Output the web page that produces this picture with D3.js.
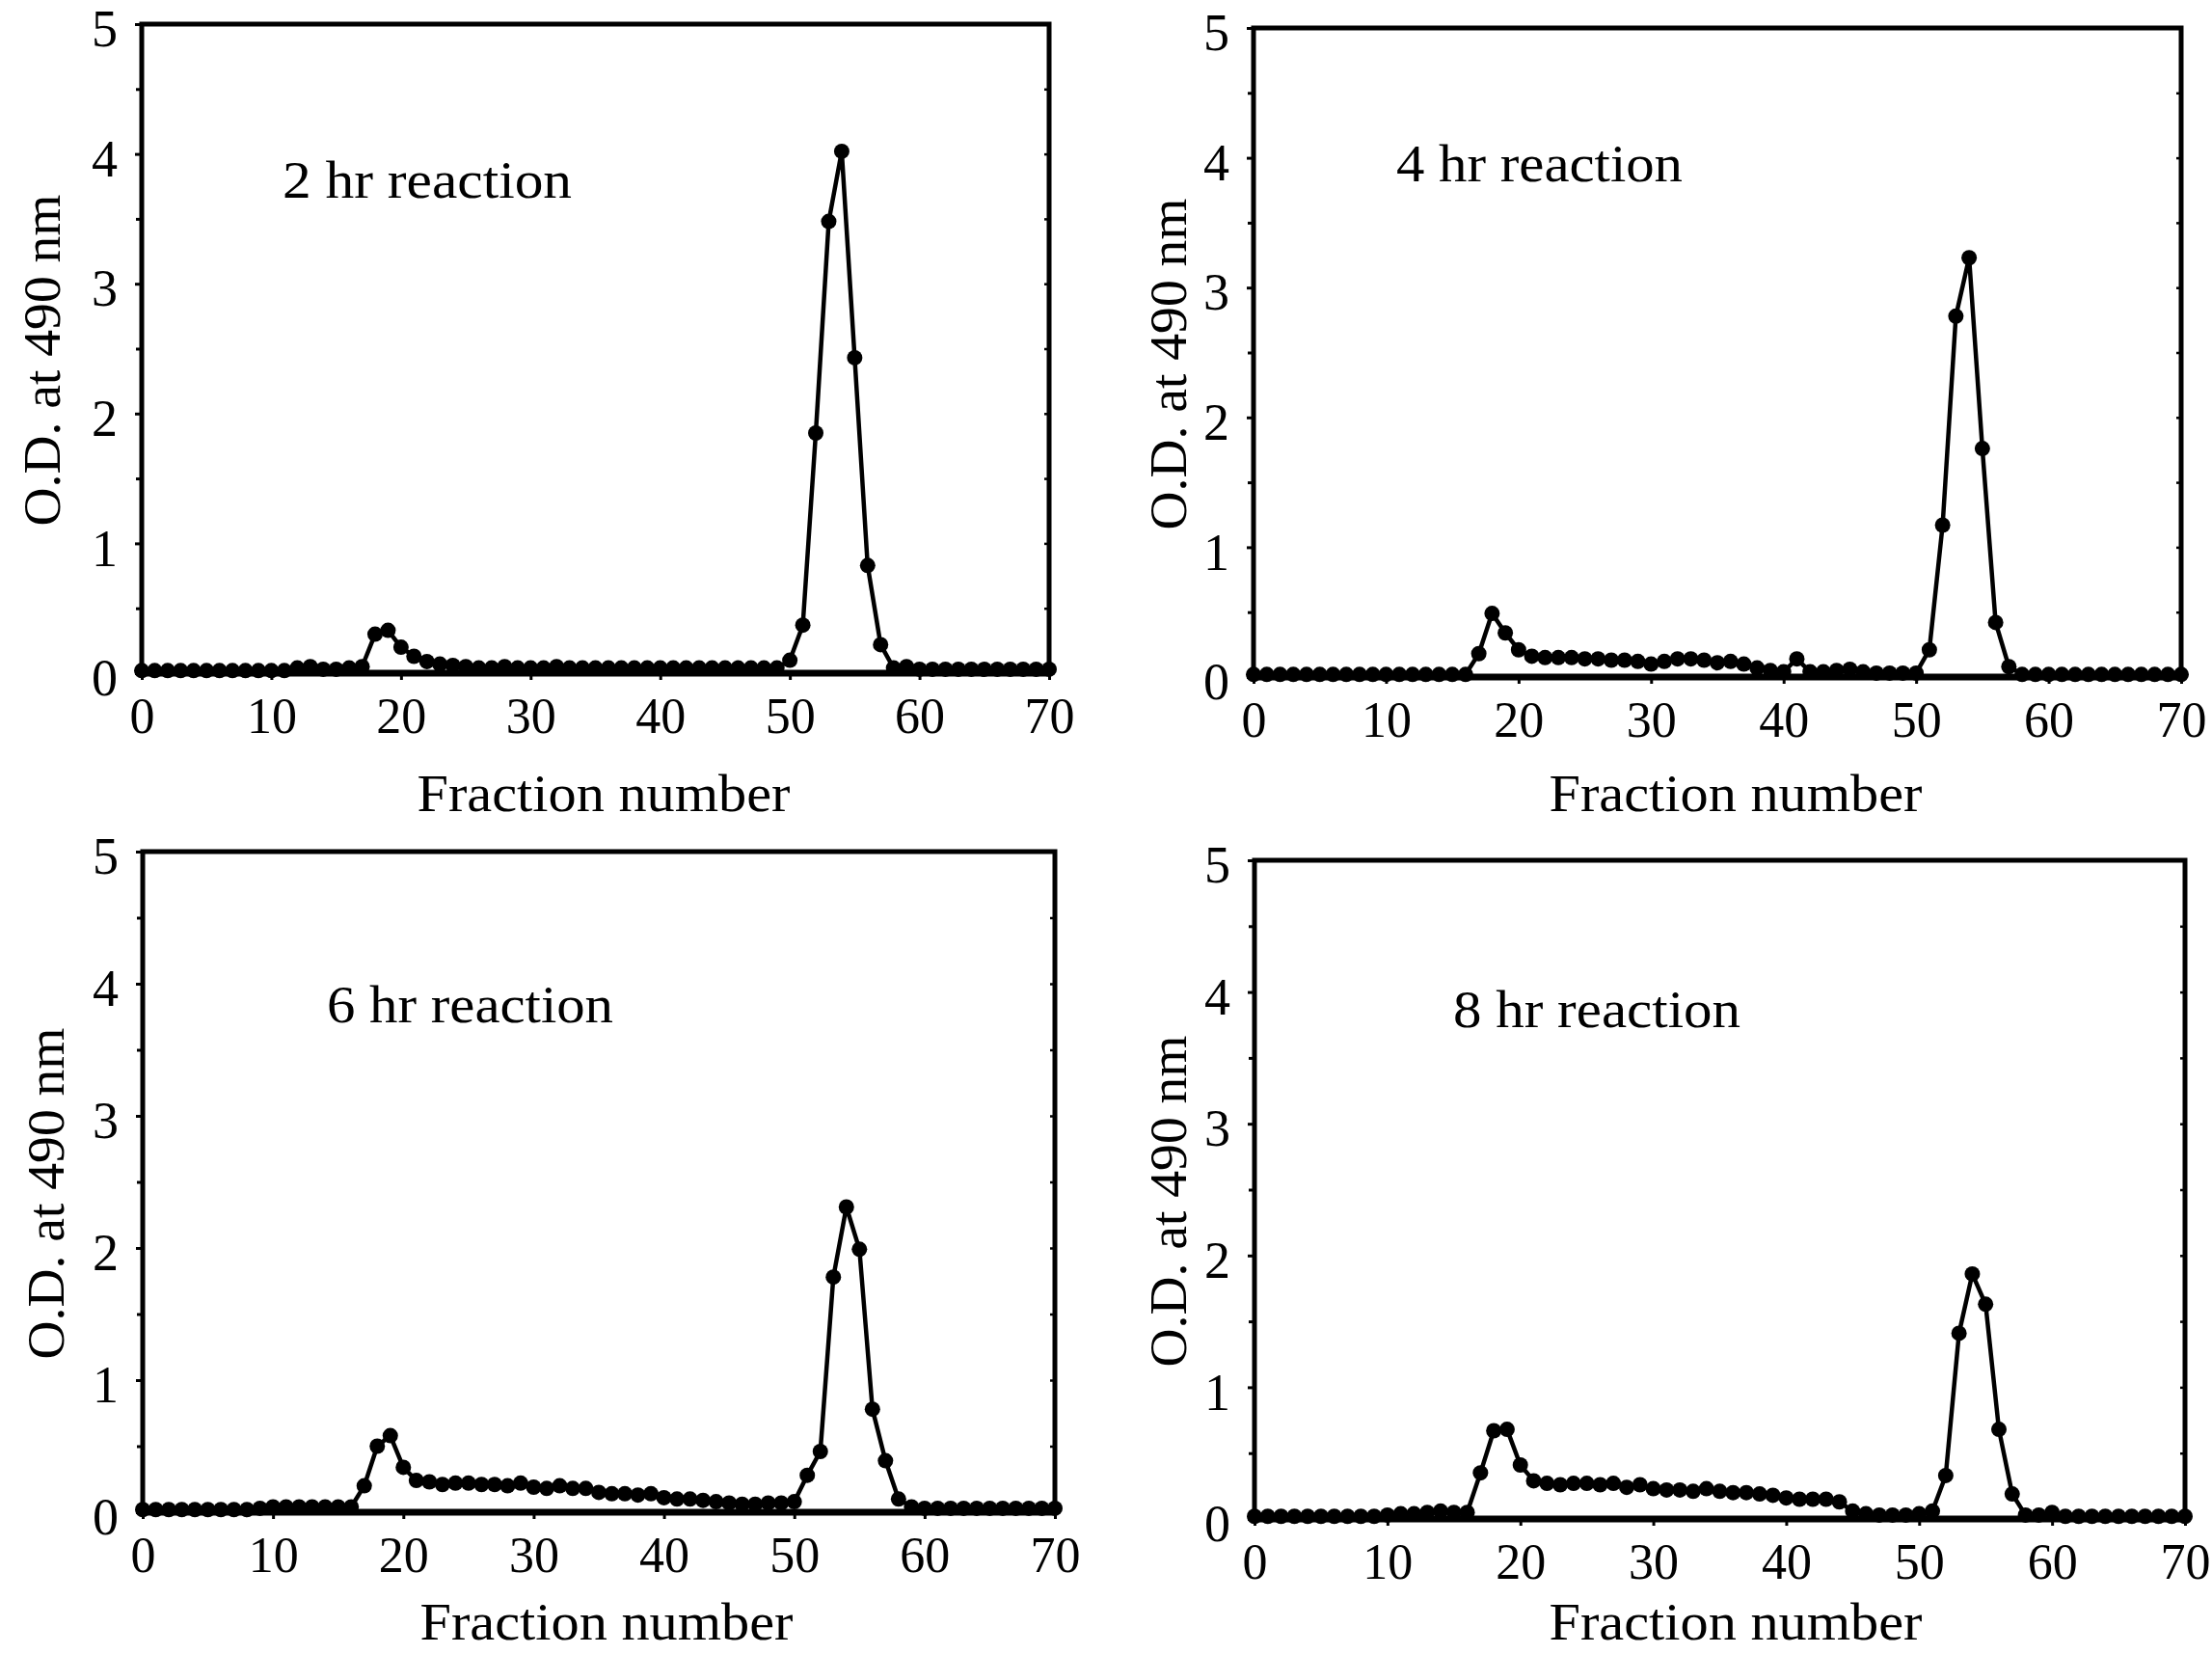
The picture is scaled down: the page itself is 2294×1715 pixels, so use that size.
<!DOCTYPE html>
<html>
<head>
<meta charset="utf-8">
<script src="https://cdn.jsdelivr.net/npm/d3@7"></script>
<style>
  html, body { margin: 0; padding: 0; background: #fff; }
  svg { display: block; }
  svg text { font-family: "Liberation Serif", "Times New Roman", Times, serif !important; fill: #000; }
</style>
</head>
<body>
<svg id="chart" width="2294" height="1715"></svg>
<script>
// ---------- DATA ----------
const fractions = d3.range(0, 71); // fraction numbers 0..70
const xTicks = [0, 10, 20, 30, 40, 50, 60, 70];
const yTicks = [0, 1, 2, 3, 4, 5];
const yMinorTicks = [0.5, 1.5, 2.5, 3.5, 4.5];
const panelTitles = ["2 hr  reaction", "4 hr  reaction", "6 hr  reaction", "8 hr  reaction"];
const xLabel = "Fraction  number";
const yLabel = "O.D.  at  490 nm";

// O.D. at 490 nm for fractions 0..70
const od2hr = [
  0.02,0.02,0.02,0.02,0.02,0.02,0.02,0.02,0.02,0.02,
  0.02,0.02,0.04,0.05,0.03,0.03,0.04,0.05,0.30,0.33,
  0.20,0.13,0.09,0.07,0.06,0.05,0.04,0.04,0.05,0.04,
  0.04,0.04,0.05,0.04,0.04,0.04,0.04,0.04,0.04,0.04,
  0.04,0.04,0.04,0.04,0.04,0.04,0.04,0.04,0.04,0.04,
  0.10,0.37,1.85,3.48,4.02,2.43,0.83,0.22,0.04,0.05,
  0.03,0.03,0.03,0.03,0.03,0.03,0.03,0.03,0.03,0.03,
  0.03
];
const od4hr = [
  0.02,0.02,0.02,0.02,0.02,0.02,0.02,0.02,0.02,0.02,
  0.02,0.02,0.02,0.02,0.02,0.02,0.02,0.18,0.49,0.34,
  0.21,0.16,0.15,0.15,0.15,0.14,0.14,0.13,0.13,0.12,
  0.10,0.12,0.14,0.14,0.13,0.11,0.12,0.10,0.07,0.05,
  0.04,0.14,0.04,0.04,0.05,0.06,0.04,0.03,0.03,0.03,
  0.03,0.21,1.17,2.78,3.23,1.76,0.42,0.08,0.02,0.02,
  0.02,0.02,0.02,0.02,0.02,0.02,0.02,0.02,0.02,0.02,
  0.02
];
const od6hr = [
  0.02,0.02,0.02,0.02,0.02,0.02,0.02,0.02,0.02,0.03,
  0.04,0.04,0.04,0.04,0.04,0.04,0.04,0.20,0.50,0.58,
  0.34,0.24,0.23,0.21,0.22,0.22,0.21,0.21,0.20,0.22,
  0.19,0.18,0.20,0.18,0.18,0.15,0.14,0.14,0.13,0.14,
  0.11,0.10,0.10,0.09,0.08,0.07,0.06,0.06,0.07,0.07,
  0.08,0.28,0.46,1.78,2.31,1.99,0.78,0.39,0.10,0.04,
  0.03,0.03,0.03,0.03,0.03,0.03,0.03,0.03,0.03,0.03,
  0.03
];
const od8hr = [
  0.02,0.02,0.02,0.02,0.02,0.02,0.02,0.02,0.02,0.02,
  0.03,0.04,0.04,0.05,0.06,0.05,0.05,0.35,0.67,0.68,
  0.41,0.29,0.27,0.26,0.27,0.27,0.26,0.27,0.24,0.26,
  0.23,0.22,0.22,0.21,0.23,0.21,0.20,0.20,0.19,0.18,
  0.16,0.15,0.15,0.15,0.13,0.06,0.04,0.03,0.03,0.03,
  0.04,0.06,0.33,1.41,1.86,1.63,0.68,0.19,0.03,0.03,
  0.05,0.02,0.02,0.02,0.02,0.02,0.02,0.02,0.02,0.02,
  0.02
];
const seriesList = [od2hr, od4hr, od6hr, od8hr];

// ---------- LAYOUT ----------
const panels = [
  { l: 147,  r: 1088, t: 25,  b: 698,  title: [293, 205],   titleW: 300, xl: [626, 841],   ylx: 40 },
  { l: 1300, r: 2262, t: 29,  b: 702,  title: [1448, 188],  titleW: 297, xl: [1800, 841],  ylx: 1208 },
  { l: 148,  r: 1094, t: 883, b: 1568, title: [339, 1060],  titleW: 297, xl: [629, 1700],  ylx: 44 },
  { l: 1301, r: 2266, t: 892, b: 1575, title: [1507, 1065], titleW: 298, xl: [1800, 1700], ylx: 1208 }
];

const FONT = '"Liberation Serif", "Times New Roman", Times, serif';
const svg = d3.select("#chart");

panels.forEach((p, i) => {
  const data = fractions.map((f, k) => ({ f, v: seriesList[i][k] }));
  const x = d3.scaleLinear().domain([0, 70]).range([p.l, p.r]);
  const y = d3.scaleLinear().domain([0, 5]).range([p.b, p.t]);
  const g = svg.append("g");

  // baseline (y = 0) thick
  g.append("line")
    .attr("x1", x(0)).attr("x2", x(70))
    .attr("y1", y(0)).attr("y2", y(0))
    .attr("stroke", "#000").attr("stroke-width", 7);

  // data line
  const line = d3.line().x(d => x(d.f)).y(d => y(d.v));
  g.append("path").datum(data)
    .attr("d", line)
    .attr("fill", "none")
    .attr("stroke", "#000")
    .attr("stroke-width", 4.5)
    .attr("stroke-linejoin", "round");

  // markers
  g.selectAll("circle.pt").data(data).enter().append("circle")
    .attr("class", "pt")
    .attr("cx", d => x(d.f))
    .attr("cy", d => y(d.v))
    .attr("r", 8)
    .attr("fill", "#000");

  // frame
  g.append("rect")
    .attr("x", p.l).attr("y", p.t)
    .attr("width", p.r - p.l).attr("height", p.b - p.t)
    .attr("fill", "none").attr("stroke", "#000").attr("stroke-width", 5);

  // y axis (left)
  const yAxis = d3.axisLeft(y).tickValues(yTicks).tickFormat(d3.format("d"))
    .tickSize(7).tickPadding(18);
  const ya = g.append("g").attr("transform", `translate(${p.l},0)`).call(yAxis)
    .attr("font-family", FONT);
  ya.select(".domain").remove();
  ya.selectAll(".tick line").attr("stroke", "#000").attr("stroke-width", 3);
  ya.selectAll(".tick text").attr("font-size", 54).attr("dy", "0.42em");

  // minor y ticks left
  const yMinor = d3.axisLeft(y).tickValues(yMinorTicks).tickFormat("").tickSize(6);
  const ym = g.append("g").attr("transform", `translate(${p.l},0)`).call(yMinor);
  ym.select(".domain").remove();
  ym.selectAll(".tick line").attr("stroke", "#000").attr("stroke-width", 3);

  // right axis small inner ticks
  const yRight = d3.axisLeft(y).tickValues(yTicks.concat(yMinorTicks)).tickFormat("").tickSize(5);
  const yr = g.append("g").attr("transform", `translate(${p.r},0)`).call(yRight);
  yr.select(".domain").remove();
  yr.selectAll(".tick line").attr("stroke", "#000").attr("stroke-width", 2.5);

  // x axis (bottom)
  const xAxis = d3.axisBottom(x).tickValues(xTicks).tickFormat(d3.format("d")).tickSize(7);
  const xa = g.append("g").attr("transform", `translate(0,${p.b})`).call(xAxis)
    .attr("font-family", FONT);
  xa.select(".domain").remove();
  xa.selectAll(".tick line").attr("stroke", "#000").attr("stroke-width", 3);
  xa.selectAll(".tick text").attr("font-size", 52).attr("y", 62).attr("dy", 0);

  // panel title
  g.append("text")
    .attr("x", p.title[0]).attr("y", p.title[1])
    .attr("font-size", 54)
    .attr("textLength", p.titleW).attr("lengthAdjust", "spacingAndGlyphs")
    .text(panelTitles[i]);

  // x label
  g.append("text")
    .attr("x", p.xl[0]).attr("y", p.xl[1])
    .attr("text-anchor", "middle")
    .attr("font-size", 55)
    .attr("textLength", 387).attr("lengthAdjust", "spacingAndGlyphs")
    .text(xLabel);

  // y label
  const cy = (p.t + p.b) / 2 + 12;
  g.append("text")
    .attr("transform", `translate(${p.ylx + 22},${cy}) rotate(-90)`)
    .attr("text-anchor", "middle")
    .attr("font-size", 54)
    .attr("textLength", 344).attr("lengthAdjust", "spacingAndGlyphs")
    .text(yLabel);
});
</script>
</body>
</html>
